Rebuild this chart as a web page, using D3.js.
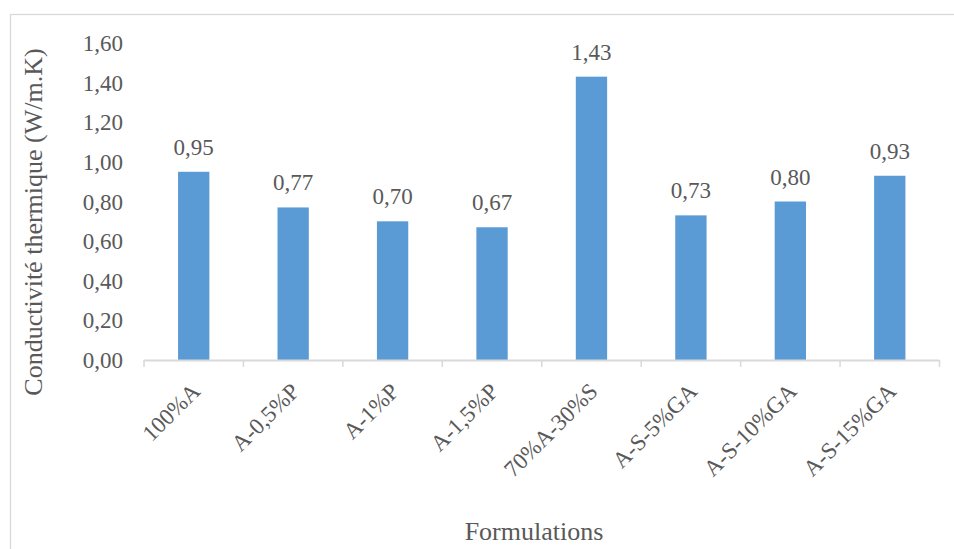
<!DOCTYPE html>
<html><head><meta charset="utf-8">
<script src="https://cdn.jsdelivr.net/npm/d3@7"></script>
<style>body{margin:0;background:#fff}svg{display:block}</style>
</head><body><svg id="c" width="954" height="549"></svg>
<script>
const categories = ["100%A","A-0,5%P","A-1%P","A-1,5%P","70%A-30%S","A-S-5%GA","A-S-10%GA","A-S-15%GA"];
const values = [0.95,0.77,0.70,0.67,1.43,0.73,0.80,0.93];
const yTicks = [0,0.2,0.4,0.6,0.8,1.0,1.2,1.4,1.6];
const yTitle = "Conductivité thermique (W/m.K)";
const xTitle = "Formulations";

const svg = d3.select("#c");
const TXT = "#595959";
const FF = '"Liberation Serif"';
const fmt = v => v.toFixed(2).replace(".", ",");
svg.append("rect").attr("x",10.5).attr("y",14.5).attr("width",1000).attr("height",600)
  .attr("fill","#fff").attr("stroke","#D9D9D9").attr("stroke-width",1.3);

const x = d3.scaleBand().domain(categories).range([144,939.5]);
const y = d3.scaleLinear().domain([0,1.6]).range([360,43]);
const barW = x.bandwidth()*0.315;

svg.append("g").selectAll("text").data(yTicks).join("text")
  .attr("x",123).attr("y",d=>y(d)).attr("dy","0.35em").attr("text-anchor","end")
  .attr("fill",TXT).style("font-family",FF).style("font-size","23px").text(fmt);

svg.append("g").selectAll("rect").data(values).join("rect")
  .attr("x",(d,i)=>x(categories[i])+x.bandwidth()/2-barW/2)
  .attr("width",barW)
  .attr("y",d=>y(d)).attr("height",d=>y(0)-y(d))
  .attr("fill","#5B9BD5");

svg.append("g").selectAll("text").data(values).join("text")
  .attr("x",(d,i)=>x(categories[i])+x.bandwidth()/2)
  .attr("y",d=>y(d)-17).attr("text-anchor","middle")
  .attr("fill",TXT).style("font-family",FF).style("font-size","23px").text(fmt);

const xa = svg.append("g");
xa.append("line").attr("x1",144).attr("x2",939.5).attr("y1",360.5).attr("y2",360.5)
  .attr("stroke","#D9D9D9").attr("stroke-width",2);
const tickPos = categories.map(c=>x(c)).concat([x.range()[1]]);
xa.selectAll("line.t").data(tickPos).join("line").attr("class","t")
  .attr("x1",d=>d).attr("x2",d=>d).attr("y1",360).attr("y2",367)
  .attr("stroke","#D9D9D9").attr("stroke-width",1.5);

xa.selectAll("text").data(categories).join("text")
  .attr("transform",d=>`translate(${x(d)+x.bandwidth()/2+2},${387}) rotate(-45)`)
  .attr("text-anchor","end").attr("dy","0.35em")
  .attr("fill",TXT).style("font-family",FF).style("font-size","23px").text(d=>d);

svg.append("text").attr("x",534).attr("y",540).attr("text-anchor","middle")
  .attr("fill",TXT).style("font-family",FF).style("font-size","26px").text(xTitle);
svg.append("text").attr("transform","translate(42,222) rotate(-90)").attr("text-anchor","middle")
  .attr("fill",TXT).style("font-family",FF).style("font-size","26px").text(yTitle);
</script></body></html>
